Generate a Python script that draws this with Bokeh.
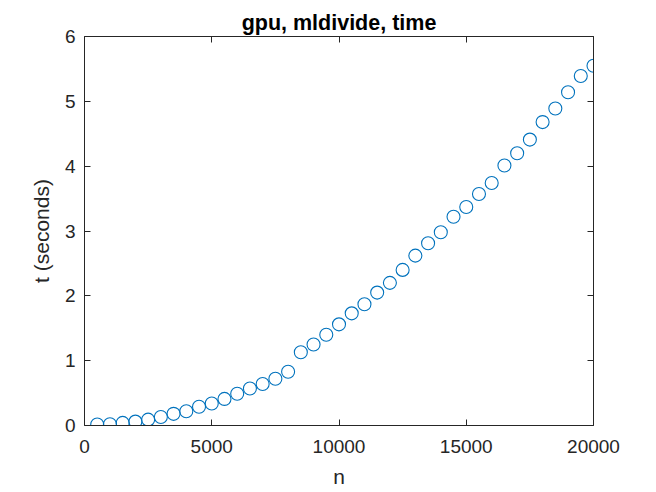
from bokeh.plotting import figure
from bokeh.models import LinearAxis, FixedTicker, BasicTickFormatter, Range1d
from bokeh.embed import file_html
from bokeh.resources import INLINE

n_values = [500, 1000, 1500, 2000, 2500, 3000, 3500, 4000, 4500, 5000,
            5500, 6000, 6500, 7000, 7500, 8000, 8500, 9000, 9500, 10000,
            10500, 11000, 11500, 12000, 12500, 13000, 13500, 14000, 14500, 15000,
            15500, 16000, 16500, 17000, 17500, 18000, 18500, 19000, 19500, 20000]
t_values = [0.015, 0.02, 0.04, 0.06, 0.09, 0.13, 0.18, 0.22, 0.29, 0.34,
            0.41, 0.49, 0.57, 0.64, 0.72, 0.83, 1.13, 1.25, 1.40, 1.56,
            1.73, 1.87, 2.05, 2.20, 2.40, 2.62, 2.81, 2.98, 3.22, 3.37,
            3.57, 3.74, 4.01, 4.20, 4.41, 4.68, 4.89, 5.14, 5.39, 5.55]
x_ticks = [0, 5000, 10000, 15000, 20000]
y_ticks = [0, 1, 2, 3, 4, 5, 6]

FONT = "Liberation Sans"
TXT = "#262626"

p = figure(width=656, height=492, output_backend="svg", toolbar_location=None,
           x_range=Range1d(0, 20000), y_range=Range1d(0, 6),
           min_border_left=84, min_border_right=63, min_border_top=36, min_border_bottom=67,
           x_axis_label="n", y_axis_label="t (seconds)")
bottom = p.below[0]
left = p.left[0]

p.title.text = "gpu, mldivide, time"
p.title.align = "center"
p.title.text_font = FONT
p.title.text_font_size = "21.5px"
p.title.text_font_style = "bold"
p.title.text_color = "#000000"
p.title.standoff = 4
p.outline_line_color = None
p.xgrid.visible = False
p.ygrid.visible = False
p.background_fill_color = "white"
p.border_fill_color = "white"

top = LinearAxis()
right = LinearAxis()
p.add_layout(top, "above")
p.add_layout(right, "right")

for ax in [bottom, top]:
    ax.ticker = FixedTicker(ticks=x_ticks)
for ax in [left, right]:
    ax.ticker = FixedTicker(ticks=y_ticks)

for ax in [bottom, left, top, right]:
    ax.formatter = BasicTickFormatter(use_scientific=False)
    ax.major_tick_in = 6
    ax.major_tick_out = 0
    ax.minor_tick_in = 0
    ax.minor_tick_out = 0
    ax.axis_line_color = TXT
    ax.major_tick_line_color = TXT
    ax.axis_line_width = 1
    ax.major_label_text_font = FONT
    ax.major_label_text_font_size = "19px"
    ax.major_label_text_color = TXT
    ax.axis_label_text_font = FONT
    ax.axis_label_text_font_size = "21px"
    ax.axis_label_text_font_style = "normal"
    ax.axis_label_text_color = TXT

for ax in [top, right]:
    ax.major_label_text_color = None
    ax.major_label_standoff = 0

bottom.major_label_standoff = 14
left.major_label_standoff = 9
bottom.axis_label_standoff = 9
left.axis_label_standoff = 9

p.scatter(n_values, t_values, marker="circle", size=13, fill_color=None,
          line_color="#0072BD", line_width=1.1)

open("out.html", "w").write(file_html(p, INLINE))
